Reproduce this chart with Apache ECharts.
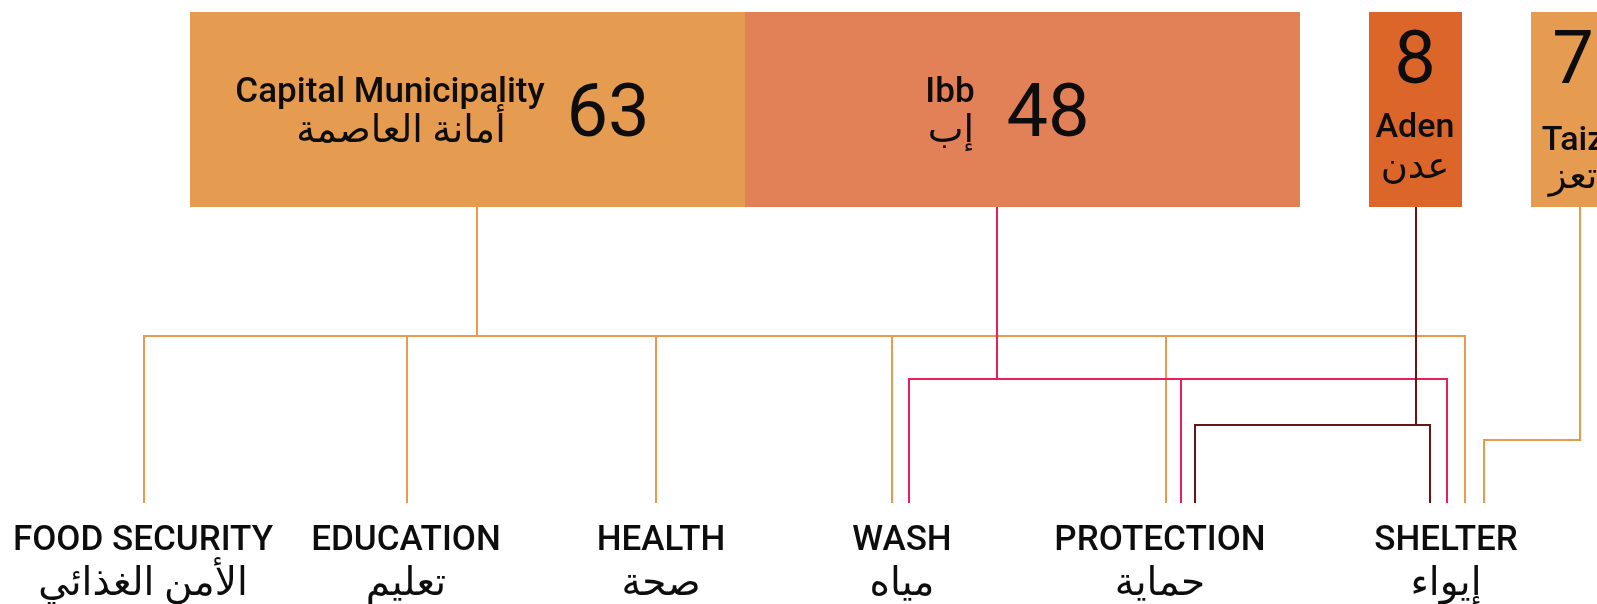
<!DOCTYPE html>
<html><head><meta charset="utf-8">
<script src="https://cdn.jsdelivr.net/npm/echarts@6/dist/echarts.min.js"></script>
<style>html,body{margin:0;padding:0;background:#fff}#c{width:1597px;height:604px}</style>
</head><body><div id="c"></div>
<script>
// ---- data ----
const regionsEn = ['Capital Municipality', 'Ibb', 'Aden', 'Taiz'];
const regionsAr = ['أمانة العاصمة', 'إب', 'عدن', 'تعز'];
const regionCounts = [63, 48, 8, 7];
const sectorsEn = ['FOOD SECURITY', 'EDUCATION', 'HEALTH', 'WASH', 'PROTECTION', 'SHELTER'];
const sectorsAr = ['الأمن الغذائي', 'تعليم', 'صحة', 'مياه', 'حماية', 'إيواء'];
const capitalSectors = ['FOOD SECURITY', 'EDUCATION', 'HEALTH', 'WASH', 'PROTECTION', 'SHELTER'];
const ibbSectors = ['WASH', 'PROTECTION', 'SHELTER'];
const adenSectors = ['PROTECTION', 'SHELTER'];
const taizSectors = ['SHELTER'];
const regionSectors = [capitalSectors, ibbSectors, adenSectors, taizSectors];

// ---- layout & style (axis units == canvas pixels) ----
const W = 1597, H = 604;
const boxLayout = [
  {x0: 190, x1: 745, y0: 12, y1: 207, fill: '#E59B50', kind: 'wide', nameX: 390, arX: 401, numX: 608},
  {x0: 745, x1: 1300, y0: 12, y1: 207, fill: '#E28158', kind: 'wide', nameX: 950, arX: 951, numX: 1048},
  {x0: 1369, x1: 1462, y0: 12, y1: 207, fill: '#DC6529', kind: 'tall', cx: 1415, nameY: 128.5, arY: 169},
  {x0: 1531, x1: 1615, y0: 12, y1: 207, fill: '#E59B50', kind: 'tall', cx: 1573, nameY: 141, arY: 179}
];
const linkLayout = [
  {color: '#E89B4D', stemX: 477, busY: 336, drops: {'FOOD SECURITY': 144, 'EDUCATION': 407, 'HEALTH': 656, 'WASH': 892, 'PROTECTION': 1166, 'SHELTER': 1465}},
  {color: '#EC1E5A', stemX: 997, busY: 379, drops: {'WASH': 909, 'PROTECTION': 1181, 'SHELTER': 1447}},
  {color: '#6B1416', stemX: 1416, busY: 425, drops: {'PROTECTION': 1195, 'SHELTER': 1430}},
  {color: '#E89B4D', stemX: 1580, busY: 440, drops: {'SHELTER': 1484}}
];
const dropBottom = 503;
const sectorLabelX = [143, 406, 661, 902, 1160, 1446];
const TXT = '#0d0d0d';
const FONT = 'Roboto, "DejaVu Sans", sans-serif';

const chart = echarts.init(document.getElementById('c'), null, {renderer: 'canvas'});

function boxItem(params, api) {
  const i = params.dataIndex;
  const L = boxLayout[i];
  const p0 = api.coord([L.x0, L.y0]);
  const p1 = api.coord([L.x1, L.y1]);
  const children = [{type: 'rect', shape: {x: p0[0], y: p0[1], width: p1[0] - p0[0], height: p1[1] - p0[1]}, style: {fill: L.fill}}];
  const val = String(api.value(1));
  if (L.kind === 'wide') {
    const n = api.coord([L.nameX, 93.5]);
    const a = api.coord([L.arX, 132]);
    const v = api.coord([L.numX, 117.5]);
    children.push({type: 'text', x: n[0], y: n[1], style: {text: regionsEn[i], font: '500 35px ' + FONT, fill: TXT, align: 'center', verticalAlign: 'middle'}});
    children.push({type: 'text', x: a[0], y: a[1], style: {text: regionsAr[i], font: '38px ' + FONT, fill: TXT, align: 'center', verticalAlign: 'middle'}});
    children.push({type: 'text', x: v[0], y: v[1], style: {text: val, font: '400 74px ' + FONT, fill: TXT, align: 'center', verticalAlign: 'middle'}});
  } else {
    const v = api.coord([L.cx, 64.5]);
    const n = api.coord([L.cx, L.nameY]);
    const a = api.coord([L.cx, L.arY]);
    children.push({type: 'text', x: v[0], y: v[1], style: {text: val, font: '400 74px ' + FONT, fill: TXT, align: 'center', verticalAlign: 'middle'}});
    children.push({type: 'text', x: n[0], y: n[1], style: {text: regionsEn[i], font: '500 34px ' + FONT, fill: TXT, align: 'center', verticalAlign: 'middle'}});
    children.push({type: 'text', x: a[0], y: a[1], style: {text: regionsAr[i], font: '37px ' + FONT, fill: TXT, align: 'center', verticalAlign: 'middle'}});
  }
  return {type: 'group', children};
}

function linkItem(params, api) {
  const i = params.dataIndex;
  const L = linkLayout[i];
  const top = boxLayout[i].y1;
  const xs = regionSectors[i].map(s => L.drops[s]);
  const minX = Math.min(L.stemX, ...xs), maxX = Math.max(L.stemX, ...xs);
  const st = {stroke: L.color, lineWidth: 2, fill: null};
  const seg = (x1, y1, x2, y2) => {
    const a = api.coord([x1, y1]), b = api.coord([x2, y2]);
    return {type: 'line', shape: {x1: a[0], y1: a[1], x2: b[0], y2: b[1]}, style: st};
  };
  const ch = [seg(L.stemX, top, L.stemX, L.busY), seg(minX - 1, L.busY, maxX + 1, L.busY)];
  xs.forEach(x => ch.push(seg(x, L.busY, x, dropBottom)));
  return {type: 'group', children: ch};
}

function sectorItem(params, api) {
  const i = params.dataIndex;
  const e = api.coord([sectorLabelX[i], 541.5]);
  const a = api.coord([sectorLabelX[i], 585.5]);
  return {type: 'group', children: [
    {type: 'text', x: e[0], y: e[1], style: {text: sectorsEn[i], font: '500 35px ' + FONT, fill: TXT, align: 'center', verticalAlign: 'middle'}},
    {type: 'text', x: a[0], y: a[1], style: {text: sectorsAr[i], font: '39px ' + FONT, fill: TXT, align: 'center', verticalAlign: 'middle'}}
  ]};
}

chart.setOption({
  animation: false,
  backgroundColor: '#fff',
  grid: {left: 0, right: 0, top: 0, bottom: 0},
  xAxis: {type: 'value', min: 0, max: W, show: false},
  yAxis: {type: 'value', min: 0, max: H, inverse: true, show: false},
  series: [
    {type: 'custom', name: 'links', coordinateSystem: 'cartesian2d', data: regionSectors.map((s, i) => [i, s.length]), renderItem: linkItem, z: 1},
    {type: 'custom', name: 'regions', coordinateSystem: 'cartesian2d', data: regionCounts.map((v, i) => [i, v]), renderItem: boxItem, z: 2},
    {type: 'custom', name: 'sectors', coordinateSystem: 'cartesian2d', data: sectorsEn.map((s, i) => [i, i]), renderItem: sectorItem, z: 2}
  ]
});
</script>
</body></html>
